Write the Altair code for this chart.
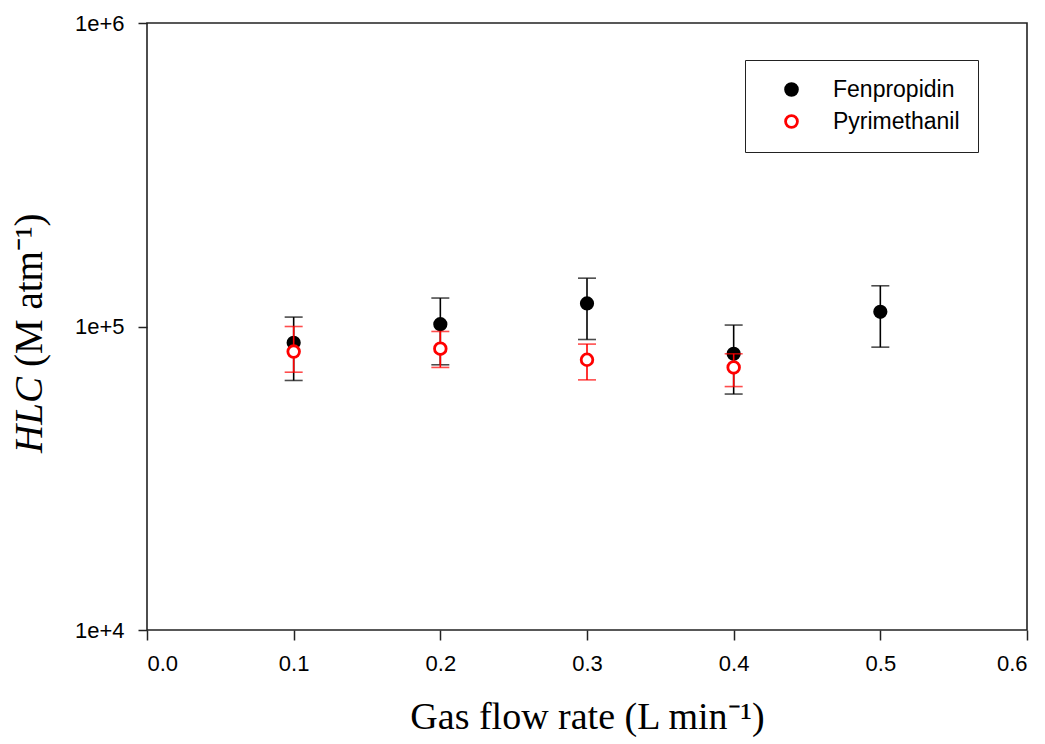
import altair as alt
import pandas as pd

# Data
series = ["Fenpropidin", "Pyrimethanil"]
fen_flow = [0.1, 0.2, 0.3, 0.4, 0.5]
fen_hlc = [88400, 101800, 119100, 81300, 111800]
fen_lo = [66400, 74800, 90600, 59900, 85500]
fen_hi = [107400, 124100, 144300, 101100, 136200]

pyr_flow = [0.1, 0.2, 0.3, 0.4]
pyr_hlc = [82700, 84500, 77700, 73300]
pyr_lo = [70700, 73300, 66700, 63400]
pyr_hi = [100000, 96300, 87500, 81300]

x_ticks = [0.0, 0.1, 0.2, 0.3, 0.4, 0.5, 0.6]
y_ticks = [1e4, 1e5, 1e6]

fen = pd.DataFrame({"flow": fen_flow, "hlc": fen_hlc, "lo": fen_lo, "hi": fen_hi,
                    "series": series[0]})
pyr = pd.DataFrame({"flow": pyr_flow, "hlc": pyr_hlc, "lo": pyr_lo, "hi": pyr_hi,
                    "series": series[1]})

xs = alt.Scale(domain=[0, 0.6], nice=False, zero=False)
ys = alt.Scale(type="log", domain=[1e4, 1e6], nice=False)

X = alt.X("flow:Q", scale=xs,
          axis=alt.Axis(values=x_ticks, format=".1f", title="Gas flow rate (L min⁻¹)",
                        grid=False, domain=False, tickSize=10, tickWidth=1.5,
                        tickColor="#222", labelFont="Liberation Sans", labelFontSize=22,
                        labelColor="black", labelPadding=13, titleFont="Liberation Serif",
                        titleFontSize=38, titleFontWeight="normal", titleColor="black",
                        titlePadding=24))
Y_ax = alt.Axis(values=y_ticks, labelExpr="'1e+' + round(log(datum.value)/LN10)",
                title=None, grid=False, domain=False, tickSize=9, tickWidth=1.5,
                tickColor="#222", labelFont="Liberation Sans", labelFontSize=22,
                labelColor="black", labelPadding=14)

def errbars(df, color):
    base = alt.Chart(df)
    rule = base.mark_rule(color=color, strokeWidth=1.6).encode(
        x=X, y=alt.Y("lo:Q", scale=ys, axis=Y_ax), y2="hi:Q")
    cap_lo = base.mark_tick(color=color, orient="horizontal", size=18, thickness=1.6).encode(
        x=X, y=alt.Y("lo:Q", scale=ys))
    cap_hi = base.mark_tick(color=color, orient="horizontal", size=18, thickness=1.6).encode(
        x=X, y=alt.Y("hi:Q", scale=ys))
    return rule + cap_lo + cap_hi

color_scale = alt.Scale(domain=series, range=["black", "red"])
fill_scale = alt.Scale(domain=series, range=["black", "white"])

legend = alt.Legend(title=None, orient="none", legendX=598, legendY=37,
                    strokeColor="#222", padding=18, symbolOffset=17,
                    labelFont="Liberation Sans", labelFontSize=23, labelColor="black",
                    labelOffset=30, rowPadding=7, symbolSize=140, symbolStrokeWidth=2.8,
                    fillColor="white")

def points(df, size):
    return alt.Chart(df).mark_point(filled=False, size=size, strokeWidth=2.8, opacity=1).encode(
        x=X, y=alt.Y("hlc:Q", scale=ys),
        stroke=alt.Stroke("series:N", scale=color_scale, legend=legend),
        fill=alt.Fill("series:N", scale=fill_scale, legend=legend),
        shape=alt.value("circle"))

title_df = pd.DataFrame({"a": ["HLC"], "b": ["(M atm⁻¹)"]})
t1 = alt.Chart(title_df).mark_text(angle=270, font="Liberation Serif", fontStyle="italic",
                                   fontSize=39, align="right", baseline="middle",
                                   color="black").encode(
    text="a:N", x=alt.value(-117), y=alt.value(354))
t2 = alt.Chart(title_df).mark_text(angle=270, font="Liberation Serif", fontSize=39,
                                   align="left", baseline="middle", color="black").encode(
    text="b:N", x=alt.value(-117), y=alt.value(344))

chart = alt.layer(
    errbars(fen, "black"), points(fen, 130),
    errbars(pyr, "red"), points(pyr, 135),
    t1, t2,
).resolve_scale(stroke="shared", fill="shared").properties(
    width=880, height=607,
    padding={"left": 139, "top": 15, "right": 10, "bottom": 114},
    autosize="none",
).configure_view(stroke="#222", strokeWidth=1.6)

chart.save("out.html", embed_options={"renderer": "svg", "actions": False})
